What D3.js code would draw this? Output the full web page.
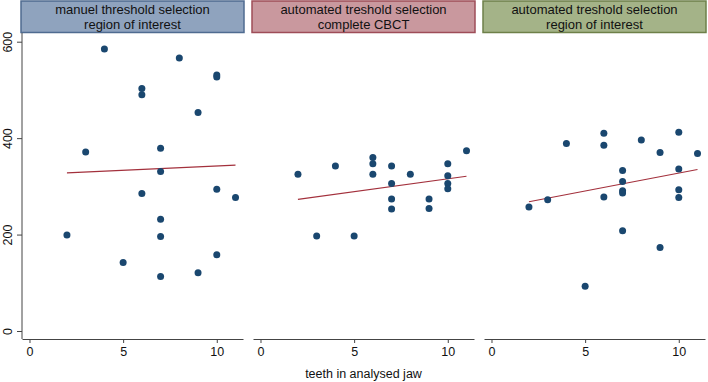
<!DOCTYPE html>
<html>
<head>
<meta charset="utf-8">
<script src="https://cdn.jsdelivr.net/npm/d3@7"></script>
<style>
  body { margin: 0; background: #fff; }
  text { font-family: "Liberation Sans", Arial, sans-serif; fill: #111; }
</style>
</head>
<body>
<svg id="chart" width="708" height="382"></svg>
<script>
// panel headers
const panelTitles = [
    ["manuel threshold selection", "region of interest"],
    ["automated treshold selection", "complete CBCT"],
    ["automated treshold selection", "region of interest"]
];

// teeth in analysed jaw / value, one pair per panel
const teethManualRoi = [2, 3, 4, 5, 6, 6, 6, 7, 7, 7, 7, 7, 8, 9, 9, 10, 10, 10, 10, 11];
const valueManualRoi = [199, 371, 585, 142, 503, 490, 285, 379, 331, 232, 196, 113, 566, 453, 121, 531, 527, 294, 158, 277];

const teethAutoCbct = [2, 3, 4, 5, 6, 6, 6, 7, 7, 7, 7, 8, 9, 9, 10, 10, 10, 10, 11];
const valueAutoCbct = [325, 197, 342, 197, 360, 347, 325, 342, 306, 274, 253, 325, 274, 254, 347, 322, 306, 295, 374];

const teethAutoRoi = [2, 3, 4, 5, 6, 6, 6, 7, 7, 7, 7, 7, 8, 9, 9, 10, 10, 10, 10, 11];
const valueAutoRoi = [257, 272, 389, 93, 410, 385, 278, 333, 310, 291, 286, 208, 396, 370, 173, 412, 336, 293, 277, 368];

// fitted line, value at teeth = 2 and teeth = 11
const fitTeeth = [2, 11];
const fitManualRoi = [328, 344];
const fitAutoCbct = [273, 321];
const fitAutoRoi = [268, 335];

const xTicks = [0, 5, 10];
const yTicks = [0, 200, 400, 600];

const panels = [
    { title: panelTitles[0], x: teethManualRoi, y: valueManualRoi, fit: fitManualRoi, fill: "#8fa3be", stroke: "#4f6b90" },
    { title: panelTitles[1], x: teethAutoCbct, y: valueAutoCbct, fit: fitAutoCbct, fill: "#c9989e", stroke: "#9e4d58" },
    { title: panelTitles[2], x: teethAutoRoi, y: valueAutoRoi, fit: fitAutoRoi, fill: "#a4b388", stroke: "#6e8049" }
];

const svg = d3.select("#chart");
const left0 = 22, panelW = 221, step = 231;
const plotTop = 33, plotBottom = 339;

const yScale = d3.scaleLinear().domain([0, 600]).range([331, 41.7]);

panels.forEach((p, i) => {
    const left = left0 + i * step;
    const xScale = d3.scaleLinear().domain([-0.4, 11.4]).range([left, left + panelW]);

    // strip header
    svg.append("rect")
        .attr("x", left - 1)
        .attr("y", 1)
        .attr("width", panelW + 2)
        .attr("height", 31.5)
        .attr("fill", p.fill)
        .attr("stroke", p.stroke)
        .attr("stroke-width", 1.5);

    svg.selectAll(null)
        .data(p.title)
        .enter()
        .append("text")
        .attr("x", left + panelW / 2)
        .attr("y", (d, j) => 13.5 + j * 15.5)
        .attr("text-anchor", "middle")
        .style("font-size", "13px")
        .text(d => d);

    // x axis
    const xAxis = d3.axisBottom(xScale)
        .tickValues(xTicks)
        .tickSize(4)
        .tickSizeOuter(0);
    const gx = svg.append("g")
        .attr("transform", `translate(0,${plotBottom})`)
        .call(xAxis);
    gx.select(".domain").attr("stroke", "#444");
    gx.selectAll(".tick line").attr("stroke", "#444");
    gx.selectAll(".tick text")
        .attr("y", 8)
        .style("font-size", "12.5px")
        .style("font-family", "'Liberation Sans', Arial, sans-serif")
        .attr("fill", "#111");

    // fitted line
    svg.append("line")
        .attr("x1", xScale(fitTeeth[0]))
        .attr("y1", yScale(p.fit[0]))
        .attr("x2", xScale(fitTeeth[1]))
        .attr("y2", yScale(p.fit[1]))
        .attr("stroke", "#a3303c")
        .attr("stroke-width", 1.2);

    // points
    svg.selectAll(null)
        .data(p.x.map((d, j) => [d, p.y[j]]))
        .enter()
        .append("circle")
        .attr("cx", d => xScale(d[0]))
        .attr("cy", d => yScale(d[1]))
        .attr("r", 3.5)
        .attr("fill", "#1a476f");
});

// y axis on first panel only
const yAxis = d3.axisLeft(yScale)
    .tickValues(yTicks)
    .tickSize(5)
    .tickSizeOuter(0);
const gy = svg.append("g")
    .attr("transform", `translate(${left0},0)`)
    .call(yAxis);
gy.select(".domain").attr("d", `M0,${plotTop}V${plotBottom}`).attr("stroke", "#444");
gy.selectAll(".tick line").attr("stroke", "#444");
gy.selectAll(".tick text")
    .attr("x", 0)
    .attr("dy", 0)
    .attr("transform", "translate(-10,0) rotate(-90)")
    .attr("text-anchor", "middle")
    .style("font-size", "12.5px")
    .style("font-family", "'Liberation Sans', Arial, sans-serif")
    .attr("fill", "#111");

// x axis title
svg.append("text")
    .attr("x", (left0 + left0 + 2 * step + panelW) / 2)
    .attr("y", 378)
    .attr("text-anchor", "middle")
    .style("font-size", "12.5px")
    .text("teeth in analysed jaw");
</script>
</body>
</html>
